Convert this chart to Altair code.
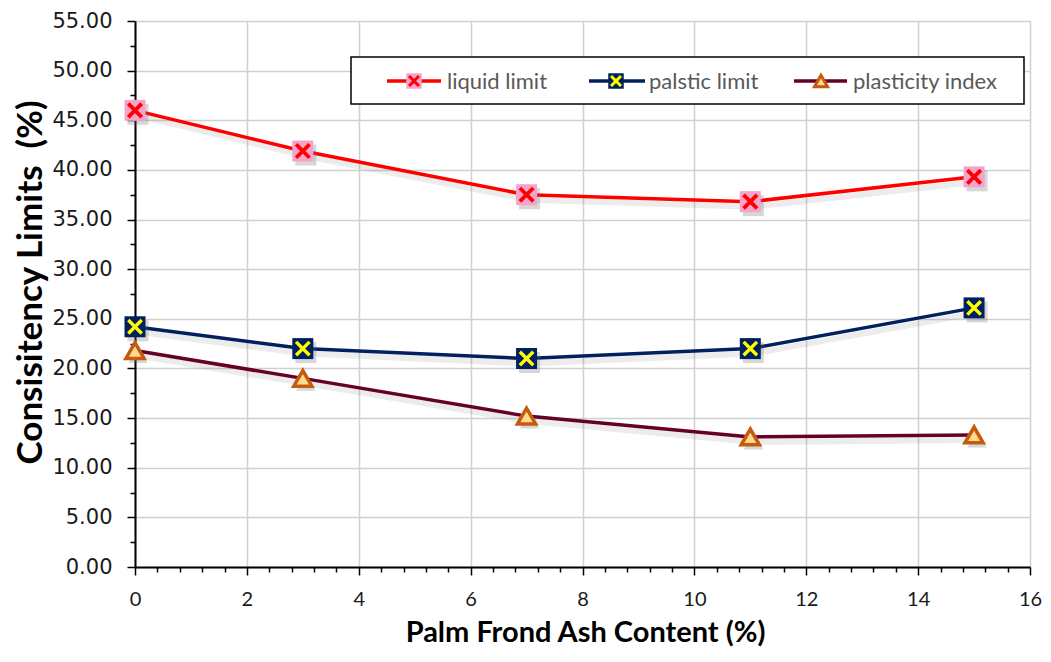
import altair as alt
import pandas as pd

ash = [0, 3, 7, 11, 15]
liquid_limit = [46.0, 41.9, 37.5, 36.8, 39.3]
plastic_limit = [24.2, 22.0, 21.0, 22.0, 26.1]
plasticity_index = [21.8, 19.0, 15.2, 13.1, 13.3]
series_names = ["liquid limit", "palstic limit", "plasticity index"]

y_ticks = [round(i * 2.5, 2) for i in range(23)]
x_ticks = [round(i * 0.4, 2) for i in range(41)]

XPATH = "M-0.64,-0.64L0.64,0.64M-0.64,0.64L0.64,-0.64"

xs = alt.Scale(domain=[0, 16], nice=False)
ys = alt.Scale(domain=[0, 55], nice=False)

x_major = "abs(datum.value/2 - round(datum.value/2)) < 0.01"
y_major = "abs(datum.value/5 - round(datum.value/5)) < 0.01"

x_axis = alt.Axis(
    values=x_ticks, tickCount=200,
    labelExpr=x_major + " ? format(datum.value, 'd') : ''",
    grid=True,
    gridOpacity={"condition": {"test": x_major, "value": 1}, "value": 0},
    gridColor="#d0d0d0", gridWidth=1.5,
    tickSize={"condition": {"test": x_major, "value": 8}, "value": 5},
    tickColor="#000000", tickWidth=1.5,
    domainColor="#000000", domainWidth=2,
    labelFont="Lato", labelFontSize=20, labelColor="#1a1a1a", labelPadding=14,
    title="Palm Frond Ash Content (%)", titleFont="Lato", titleFontSize=29,
    titleFontWeight="bold", titleColor="#000000",
    titleX=450, titleY=65, titleAlign="center", titleBaseline="middle",
    labelFlush=False, labelOverlap=False,
)
y_axis = alt.Axis(
    values=y_ticks, tickCount=200,
    labelExpr=y_major + " ? format(datum.value, '.2f') : ''",
    grid=True,
    gridOpacity={"condition": {"test": y_major, "value": 1}, "value": 0},
    gridColor="#d0d0d0", gridWidth=1.5,
    tickSize={"condition": {"test": y_major, "value": 8}, "value": 5},
    tickColor="#000000", tickWidth=1.5,
    domainColor="#000000", domainWidth=2,
    labelFont="DejaVu Sans", labelFontSize=21, labelColor="#1a1a1a", labelPadding=15,
    title="Consisitency Limits\u00a0\u00a0(%)", titleFont="Lato", titleFontSize=35,
    titleFontWeight="bold", titleColor="#000000",
    titleX=-105, titleY=261, titleAlign="center", titleBaseline="middle", titleAngle=270,
    labelFlush=False, labelOverlap=False,
)

df = pd.DataFrame({
    "ash": ash * 3,
    "value": liquid_limit + plastic_limit + plasticity_index,
    "series": [series_names[0]] * 5 + [series_names[1]] * 5 + [series_names[2]] * 5,
})

styles = {
    "liquid limit": dict(line="#ff0000", shape="square", fill="#f5a3cc", stroke=None, x="#ff0000", xw=3.8),
    "palstic limit": dict(line="#002060", shape="square", fill="#002060", stroke=None, x="#ffff00", xw=3.4),
    "plasticity index": dict(line="#660026", shape="triangle-up", fill="#ffd98f", stroke="#c55a11", x=None, xw=0),
}

base = alt.Chart(df)
layers = []

layers.append(base.mark_point(opacity=0).encode(
    x=alt.X("ash:Q", scale=xs, axis=x_axis),
    y=alt.Y("value:Q", scale=ys, axis=y_axis),
))

enc_x = alt.X("ash:Q", scale=xs)
enc_y = alt.Y("value:Q", scale=ys)

for name in series_names:
    st = styles[name]
    sub = base.transform_filter(alt.datum.series == name)
    layers.append(sub.mark_line(color="#808080", strokeWidth=6, opacity=0.15, xOffset=3, yOffset=5).encode(x=enc_x, y=enc_y))
    layers.append(sub.mark_line(color=st["line"], strokeWidth=3.5).encode(x=enc_x, y=enc_y))

for name in series_names:
    st = styles[name]
    sub = base.transform_filter(alt.datum.series == name)
    if st["shape"] == "square":
        layers.append(sub.mark_point(shape="square", filled=True, color="#707070", opacity=0.28, size=441, xOffset=3, yOffset=4).encode(x=enc_x, y=enc_y))
        layers.append(sub.mark_point(shape="square", filled=True, color=st["fill"], opacity=1, size=441).encode(x=enc_x, y=enc_y))
        layers.append(sub.mark_point(shape=XPATH, filled=False, color=st["x"], strokeWidth=st["xw"], opacity=1, size=441).encode(x=enc_x, y=enc_y))
    else:
        layers.append(sub.mark_point(shape="triangle-up", filled=True, color="#707070", opacity=0.28, size=380, xOffset=3, yOffset=4).encode(x=enc_x, y=enc_y))
        layers.append(sub.mark_point(shape="triangle-up", filled=True, fill=st["fill"], stroke=st["stroke"], strokeWidth=3.5, opacity=1, size=330).encode(x=enc_x, y=enc_y))

# legend (layout elements)
leg = alt.Chart(pd.DataFrame({"k": [0]}))
layers.append(leg.mark_rect(fill="white", stroke="black", strokeWidth=1.5).encode(
    x=alt.value(216), x2=alt.value(889), y=alt.value(36), y2=alt.value(83)))
leg_pos = {"liquid limit": (252, 306, 279, 312), "palstic limit": (454, 510, 481, 514), "plasticity index": (659, 712, 686, 718)}
ly = 60
for name in series_names:
    st = styles[name]
    x1, x2, xm, xt = leg_pos[name]
    layers.append(leg.mark_rule(color=st["line"], strokeWidth=3.5).encode(
        x=alt.value(x1), x2=alt.value(x2), y=alt.value(ly)))
    if st["shape"] == "square":
        layers.append(leg.mark_point(shape="square", filled=True, color=st["fill"], opacity=1, size=240).encode(
            x=alt.value(xm), y=alt.value(ly)))
        layers.append(leg.mark_point(shape=XPATH, filled=False, color=st["x"], strokeWidth=3, opacity=1, size=240).encode(
            x=alt.value(xm), y=alt.value(ly)))
    else:
        layers.append(leg.mark_point(shape="triangle-up", filled=True, fill=st["fill"], stroke=st["stroke"], strokeWidth=3, opacity=1, size=170).encode(
            x=alt.value(xm), y=alt.value(ly)))
    layers.append(leg.mark_text(text=name, align="left", baseline="middle", font="Lato", fontSize=22, color="#595959").encode(
        x=alt.value(xt), y=alt.value(ly + 1)))

chart = alt.layer(*layers).properties(
    width=895, height=546,
    autosize=alt.AutoSizeParams(type="none"),
    padding={"left": 127, "top": 13, "right": 13, "bottom": 80},
).configure_view(stroke="#000000", strokeWidth=1.5).configure(background="white")

chart.save("out.html", embed_options={"renderer": "svg", "actions": False})
